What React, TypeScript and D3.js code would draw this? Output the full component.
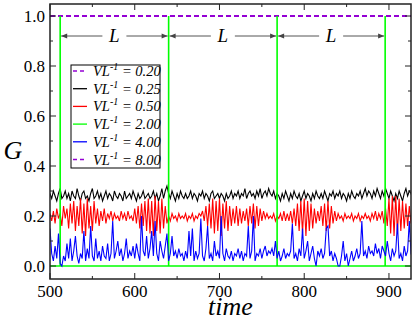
import React from "react";
import * as d3 from "d3";

const tStart = 500;
const tStep = 2;

const blackG = [
  0.29,0.27,0.30,0.28,0.26,0.29,0.31,0.27,0.28,0.30,
  0.27,0.29,0.26,0.30,0.28,0.27,0.31,0.28,0.26,0.29,
  0.30,0.27,0.28,0.26,0.29,0.31,0.27,0.28,0.30,0.27,
  0.29,0.26,0.28,0.30,0.27,0.29,0.28,0.26,0.30,0.28,
  0.27,0.29,0.28,0.26,0.30,0.27,0.28,0.29,0.27,0.30,
  0.28,0.26,0.29,0.27,0.28,0.30,0.27,0.28,0.29,0.27,
  0.28,0.30,0.27,0.29,0.26,0.28,0.31,0.27,0.30,0.32,
  0.29,0.27,0.30,0.28,0.26,0.29,0.27,0.30,0.28,0.27,
  0.29,0.27,0.28,0.30,0.27,0.29,0.28,0.26,0.29,0.28,
  0.30,0.27,0.29,0.28,0.26,0.29,0.30,0.27,0.28,0.29,
  0.27,0.29,0.28,0.26,0.29,0.27,0.28,0.30,0.27,0.29,
  0.28,0.30,0.27,0.29,0.28,0.31,0.27,0.29,0.30,0.28,
  0.29,0.27,0.30,0.28,0.31,0.27,0.29,0.30,0.28,0.31,
  0.29,0.28,0.30,0.27,0.29,0.28,0.26,0.29,0.27,0.30,
  0.28,0.26,0.29,0.27,0.30,0.28,0.27,0.29,0.26,0.28,
  0.30,0.27,0.29,0.28,0.26,0.29,0.27,0.30,0.28,0.27,
  0.29,0.27,0.30,0.28,0.26,0.29,0.28,0.30,0.27,0.29,
  0.28,0.30,0.27,0.29,0.28,0.26,0.29,0.27,0.30,0.28,
  0.27,0.29,0.28,0.30,0.27,0.29,0.31,0.28,0.30,0.29,
  0.27,0.30,0.28,0.31,0.29,0.27,0.30,0.28,0.31,0.29,
  0.27,0.30,0.28,0.26,0.29,0.27,0.30,0.28,0.26,0.29,
  0.31,0.28,0.30,0.29,0.27,
];

const redG = [
  0.21,0.18,0.22,0.17,0.23,0.19,0.21,0.16,0.24,0.19,
  0.23,0.15,0.25,0.17,0.26,0.14,0.24,0.16,0.27,0.13,
  0.25,0.12,0.27,0.15,0.24,0.14,0.26,0.17,0.23,0.16,
  0.22,0.18,0.23,0.17,0.21,0.19,0.22,0.18,0.21,0.19,
  0.20,0.18,0.22,0.19,0.21,0.18,0.22,0.19,0.20,0.18,
  0.23,0.17,0.24,0.15,0.25,0.16,0.26,0.14,0.27,0.13,
  0.26,0.12,0.28,0.14,0.26,0.13,0.27,0.15,0.24,0.17,
  0.20,0.18,0.21,0.19,0.20,0.18,0.21,0.19,0.20,0.19,
  0.21,0.18,0.20,0.19,0.21,0.18,0.20,0.19,0.21,0.20,
  0.22,0.18,0.24,0.16,0.25,0.15,0.27,0.13,0.26,0.14,
  0.27,0.12,0.25,0.15,0.26,0.14,0.24,0.16,0.23,0.17,
  0.24,0.16,0.23,0.17,0.22,0.18,0.23,0.16,0.24,0.17,
  0.25,0.15,0.24,0.16,0.23,0.18,0.22,0.19,0.21,0.19,
  0.20,0.19,0.21,0.18,0.20,0.19,0.21,0.18,0.22,0.18,
  0.21,0.18,0.22,0.17,0.23,0.16,0.25,0.14,0.26,0.13,
  0.27,0.12,0.26,0.14,0.25,0.15,0.23,0.17,0.22,0.18,
  0.24,0.16,0.25,0.14,0.26,0.15,0.24,0.17,0.22,0.18,
  0.21,0.19,0.20,0.18,0.21,0.19,0.20,0.19,0.21,0.18,
  0.20,0.19,0.21,0.18,0.20,0.19,0.21,0.19,0.20,0.18,
  0.21,0.19,0.22,0.18,0.21,0.19,0.22,0.17,0.23,0.16,
  0.27,0.13,0.28,0.12,0.28,0.13,0.27,0.14,0.26,0.15,
  0.25,0.16,0.24,0.17,0.22,
];

const blueG = [
  0.15,0.05,0.02,0.08,0.03,0.13,0.01,0.00,0.04,0.02,
  0.09,0.03,0.11,0.02,0.06,0.12,0.04,0.01,0.05,0.03,
  0.14,0.02,0.07,0.03,0.16,0.04,0.02,0.11,0.03,0.06,
  0.02,0.08,0.04,0.03,0.09,0.02,0.05,0.18,0.03,0.06,
  0.10,0.04,0.07,0.02,0.05,0.11,0.03,0.06,0.04,0.08,
  0.03,0.09,0.05,0.02,0.20,0.06,0.04,0.12,0.03,0.07,
  0.14,0.04,0.18,0.05,0.02,0.10,0.06,0.03,0.08,0.13,
  0.02,0.05,0.12,0.04,0.06,0.03,0.07,0.04,0.05,0.02,
  0.06,0.03,0.14,0.04,0.15,0.02,0.06,0.03,0.05,0.19,
  0.04,0.02,0.07,0.16,0.03,0.05,0.02,0.10,0.04,0.06,
  0.03,0.20,0.05,0.02,0.07,0.04,0.03,0.06,0.02,0.05,
  0.04,0.07,0.03,0.06,0.02,0.05,0.04,0.16,0.03,0.06,
  0.20,0.02,0.05,0.04,0.07,0.03,0.06,0.08,0.04,0.06,
  0.05,0.07,0.04,0.10,0.03,0.06,0.02,0.04,0.07,0.03,
  0.05,0.04,0.06,0.17,0.03,0.05,0.02,0.07,0.04,0.15,
  0.03,0.06,0.10,0.02,0.05,0.08,0.03,0.00,0.06,0.04,
  0.07,0.03,0.05,0.15,0.16,0.04,0.06,0.02,0.05,0.03,
  0.00,0.00,0.04,0.10,0.02,0.05,0.00,0.03,0.06,0.02,
  0.04,0.07,0.03,0.05,0.18,0.04,0.06,0.03,0.08,0.05,
  0.06,0.04,0.09,0.05,0.07,0.03,0.08,0.06,0.04,0.10,
  0.05,0.02,0.07,0.04,0.06,0.17,0.03,0.05,0.02,0.08,
  0.04,0.06,0.18,0.05,0.03,
];

const greenSpikes = [512, 640, 768, 895.5];
const flatLevel = 1.0;
const legendValues = ["0.20", "0.25", "0.50", "2.00", "4.00", "8.00"];
const legendColors = ["#9400d3", "#000000", "#ff0000", "#00ff00", "#0000ff", "#9400d3"];
const legendDashed = [true, false, false, false, false, true];
const xTicks = [500, 600, 700, 800, 900];
const xMinor = [550, 650, 750, 850];
const yTicks = [0, 0.2, 0.4, 0.6, 0.8, 1.0];
const yMinor = [0.1, 0.3, 0.5, 0.7, 0.9];

const W = 415, H = 321;
const L = 50, R = 411, T = 4, B = 279;
const serif = "'Liberation Serif', 'DejaVu Serif', serif";

export default function App() {
  const x = d3.scaleLinear().domain([500, 926]).range([L, R]);
  const y = d3.scaleLinear().domain([0, 1]).range([266, 16]);
  const line = d3
    .line<number>()
    .x((_, i) => x(tStart + i * tStep))
    .y((d) => y(d));
  const greenPts: [number, number][] = [[500, 0]];
  greenSpikes.forEach((t) => {
    greenPts.push([t, 0], [t, 1], [t, 0]);
  });
  greenPts.push([930, 0]);
  const gLine = d3
    .line<[number, number]>()
    .x((d) => x(d[0]))
    .y((d) => y(d[1]));
  const arrowY = y(0.92);
  const segs = greenSpikes.slice(0, -1).map((t, i) => [t, greenSpikes[i + 1]]);
  const legX = 71, legY = 65, legW = 89, legH = 103, rowH = 17.7;

  return (
    <svg width={W} height={H} style={{ position: "absolute", left: 0, top: 0, background: "#fff" }}>
      <defs>
        <clipPath id="plot">
          <rect x={L} y={T} width={R - L} height={B - T} />
        </clipPath>
        <marker id="ah" viewBox="0 0 10 10" refX="10" refY="5" markerWidth="8" markerHeight="6" orient="auto-start-reverse" markerUnits="userSpaceOnUse">
          <path d="M0,1 L10,5 L0,9 Z" fill="#444" />
        </marker>
      </defs>
      <rect width={W} height={H} fill="#fff" />
      <g clipPath="url(#plot)">
        <line x1={x(500)} x2={x(930)} y1={y(flatLevel)} y2={y(flatLevel)} stroke="#9400d3" strokeWidth={1.8} strokeDasharray="5,3" />
        <path d={line(blackG) || ""} fill="none" stroke="#000" strokeWidth={1.1} />
        <path d={line(redG) || ""} fill="none" stroke="#ff0000" strokeWidth={1.1} />
        <path d={gLine(greenPts) || ""} fill="none" stroke="#00ff00" strokeWidth={1.6} />
        <path d={line(blueG) || ""} fill="none" stroke="#0000ff" strokeWidth={1.1} />
      </g>
      {segs.map(([a, b], i) => {
        const mid = (x(a) + x(b)) / 2;
        return (
          <g key={i}>
            <line x1={mid - 12} x2={x(a) + 1} y1={arrowY} y2={arrowY} stroke="#555" strokeWidth={1} markerEnd="url(#ah)" />
            <line x1={mid + 12} x2={x(b) - 1} y1={arrowY} y2={arrowY} stroke="#555" strokeWidth={1} markerEnd="url(#ah)" />
            <text x={mid} y={arrowY + 6} textAnchor="middle" fontFamily={serif} fontStyle="italic" fontSize={19}>L</text>
          </g>
        );
      })}
      <rect x={legX} y={legY} width={legW} height={legH} fill="#fff" stroke="#000" strokeWidth={1} />
      {legendValues.map((v, i) => {
        const ry = legY + 6 + i * rowH;
        return (
          <g key={v + i}>
            <line x1={73} x2={87} y1={ry} y2={ry} stroke={legendColors[i]} strokeWidth={1.3} strokeDasharray={legendDashed[i] ? "4,3" : undefined} />
            <text x={93} y={ry + 5} fontFamily={serif} fontStyle="italic" fontSize={14.5}>
              VL<tspan fontSize={10} dy={-6}>-1</tspan>
              <tspan dy={6}>{" = " + v}</tspan>
            </text>
          </g>
        );
      })}
      <rect x={L} y={T} width={R - L} height={B - T} fill="none" stroke="#222" strokeWidth={1.5} />
      {xTicks.map((t) => (
        <g key={"xt" + t}>
          <line x1={x(t)} x2={x(t)} y1={B} y2={B - 6} stroke="#222" />
          <line x1={x(t)} x2={x(t)} y1={T} y2={T + 6} stroke="#222" />
          <text x={x(t)} y={297} textAnchor="middle" fontFamily={serif} fontSize={17}>{t}</text>
        </g>
      ))}
      {xMinor.map((t) => (
        <g key={"xm" + t}>
          <line x1={x(t)} x2={x(t)} y1={B} y2={B - 3} stroke="#222" />
          <line x1={x(t)} x2={x(t)} y1={T} y2={T + 3} stroke="#222" />
        </g>
      ))}
      {yTicks.map((v) => (
        <g key={"yt" + v}>
          <line x1={L} x2={L + 6} y1={y(v)} y2={y(v)} stroke="#222" />
          <line x1={R} x2={R - 6} y1={y(v)} y2={y(v)} stroke="#222" />
          <text x={45} y={y(v) + 6} textAnchor="end" fontFamily={serif} fontSize={17}>{v.toFixed(1)}</text>
        </g>
      ))}
      {yMinor.map((v) => (
        <g key={"ym" + v}>
          <line x1={L} x2={L + 3} y1={y(v)} y2={y(v)} stroke="#222" />
          <line x1={R} x2={R - 3} y1={y(v)} y2={y(v)} stroke="#222" />
        </g>
      ))}
      <text x={(L + R) / 2} y={315} textAnchor="middle" fontFamily={serif} fontStyle="italic" fontSize={26}>time</text>
      <text x={13} y={159} textAnchor="middle" fontFamily={serif} fontStyle="italic" fontSize={26}>G</text>
    </svg>
  );
}
